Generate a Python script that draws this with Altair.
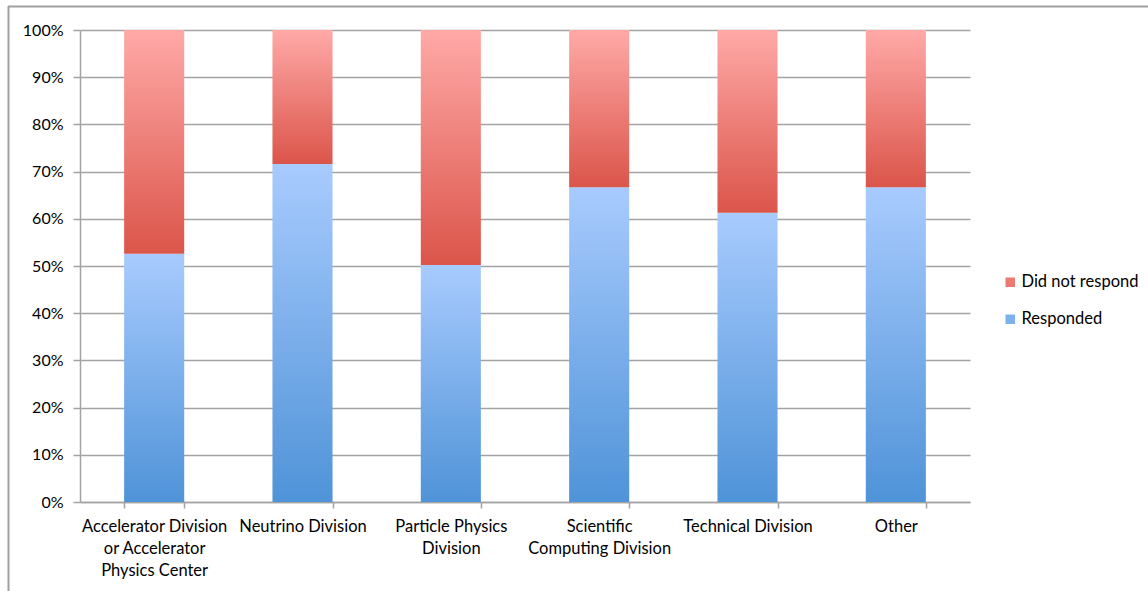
import altair as alt
import pandas as pd

# Survey response rate by division (percent of staff)
divisions = [
    "Accelerator Division|or Accelerator|Physics Center",
    "Neutrino Division",
    "Particle Physics|Division",
    "Scientific|Computing Division",
    "Technical Division",
    "Other",
]
responded = [52.6, 71.6, 50.2, 66.7, 61.3, 66.7]
did_not_respond = [round(100 - r, 1) for r in responded]
series = ["Did not respond", "Responded"]

df = pd.DataFrame({
    "division": divisions,
    "responded": responded,
    "did_not": did_not_respond,
})
df["r0"] = 0.0
df["r1"] = df["responded"]
df["d0"] = df["responded"]
df["d1"] = df["responded"] + df["did_not"]

FONT = "Lato"
GRID = "#a3a3a3"

blue_grad = alt.LinearGradient(
    gradient="linear", x1=0, y1=0, x2=0, y2=1,
    stops=[alt.GradientStop(offset=0, color="#a8cbfe"),
           alt.GradientStop(offset=1, color="#4f93d8")],
)
red_grad = alt.LinearGradient(
    gradient="linear", x1=0, y1=0, x2=0, y2=1,
    stops=[alt.GradientStop(offset=0, color="#ffa9a7"),
           alt.GradientStop(offset=1, color="#db554a")],
)

x_enc = alt.X(
    "division:N", sort=divisions, title=None,
    scale=alt.Scale(paddingInner=0.595, paddingOuter=0.2975),
    axis=alt.Axis(
        labelAngle=0, labelExpr="split(datum.label, '|')",
        labelFont=FONT, labelFontSize=16.5, labelColor="#000000",
        labelPadding=10, labelLineHeight=22, labelLimit=0,
        domainColor=GRID, domainWidth=1.5, tickColor=GRID, tickWidth=1.5,
        tickSize=6, tickBand="extent", grid=False,
    ),
)

y_scale = alt.Scale(domain=[0, 100], nice=False)
y_axis = alt.Axis(
    values=list(range(0, 101, 10)),
    labelExpr="datum.value + '%'",
    labelFont=FONT, labelFontSize=16, labelColor="#000000", labelPadding=10,
    domainColor=GRID, domainWidth=1.5, tickColor=GRID, tickWidth=1.5,
    tickSize=7, grid=True, gridColor=GRID, gridWidth=1.5,
)

base = alt.Chart(df)

# invisible layer that only carries the legend
legend_layer = base.transform_fold(
    ["did_not", "responded"], as_=["key", "val"]
).transform_calculate(
    series="datum.key == 'did_not' ? 'Did not respond' : 'Responded'"
).mark_bar(opacity=0).encode(
    x=x_enc,
    y=alt.Y("r0:Q", scale=y_scale, axis=y_axis, title=None),
    color=alt.Color(
        "series:N",
        scale=alt.Scale(domain=series, range=["#ec7a72", "#7db1ee"]),
        legend=alt.Legend(
            title=None, orient="none", legendX=922, legendY=244,
            labelFont=FONT, labelFontSize=16.5, labelColor="#000000",
            symbolType="square", symbolSize=90, symbolStrokeWidth=0,
            symbolOpacity=1, rowPadding=20, labelOffset=3,
        ),
    ),
)

resp_bars = base.mark_bar(fill=blue_grad).encode(
    x=x_enc,
    y=alt.Y("r0:Q", scale=y_scale, axis=y_axis, title=None),
    y2="r1:Q",
)
miss_bars = base.mark_bar(fill=red_grad).encode(
    x=x_enc,
    y=alt.Y("d0:Q", scale=y_scale, axis=y_axis, title=None),
    y2="d1:Q",
)

# slide frame lines along the top and left edges
frame_top = alt.Chart(pd.DataFrame({"k": [0]})).mark_rule(
    color="#a0a0a0", strokeWidth=2
).encode(x=alt.value(-72), x2=alt.value(1070), y=alt.value(-23.5))
frame_left = alt.Chart(pd.DataFrame({"k": [0]})).mark_rule(
    color="#a0a0a0", strokeWidth=2
).encode(x=alt.value(-71.5), y=alt.value(-24), y2=alt.value(565))

chart = alt.layer(
    frame_top, frame_left, legend_layer, resp_bars, miss_bars
).properties(
    width=890, height=472,
    autosize=alt.AutoSizeParams(type="none"),
    padding={"left": 80, "top": 30, "right": 178, "bottom": 89},
    background="#ffffff",
).configure_view(stroke=None)

chart.save("out.html", embed_options={"renderer": "svg", "actions": False})
